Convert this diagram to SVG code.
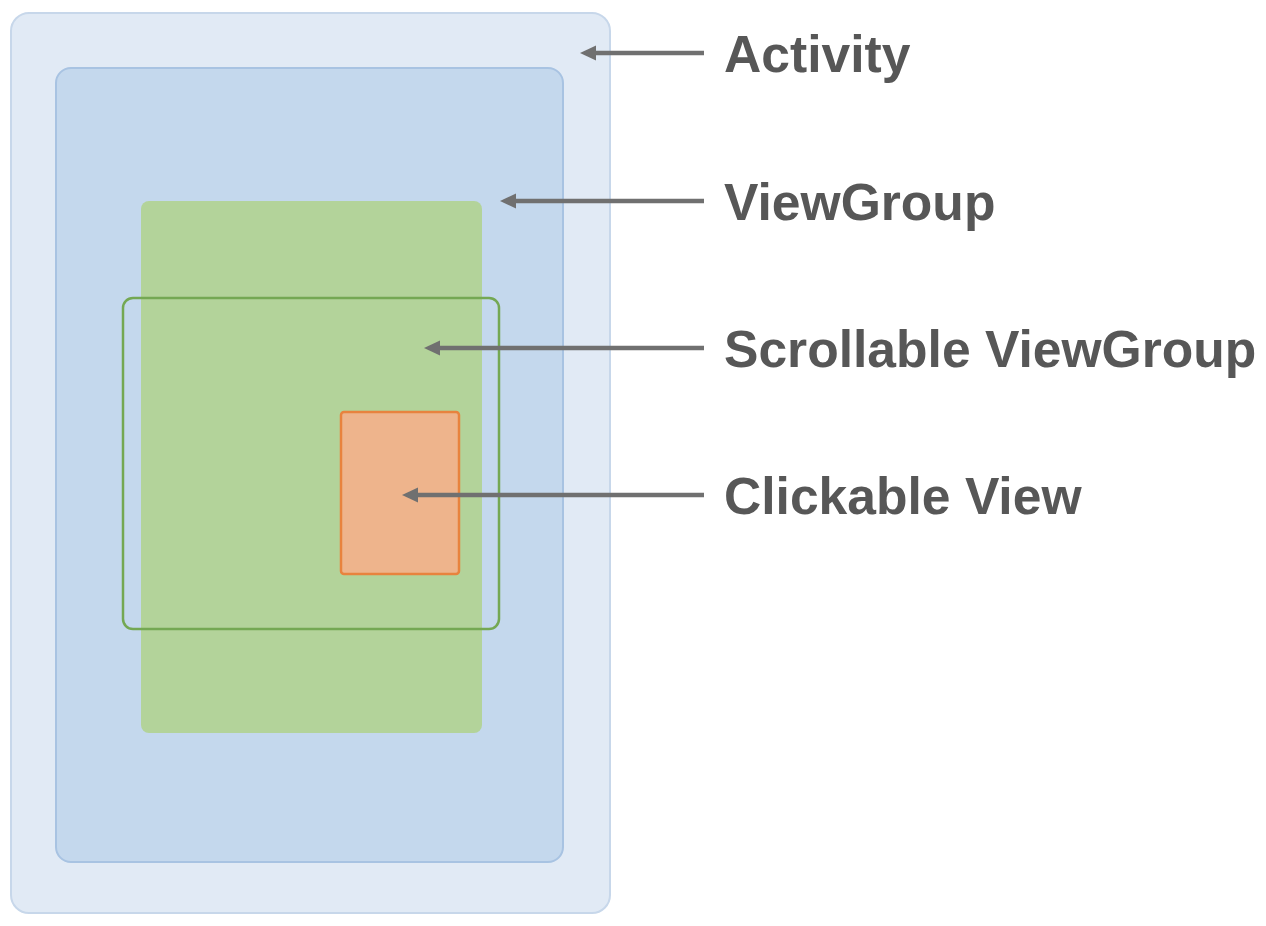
<svg xmlns="http://www.w3.org/2000/svg" width="1266" height="926" viewBox="0 0 1266 926">
  <style>
    .lbl { font-family: "Liberation Sans", Arial, sans-serif; font-weight: bold; font-size: 51.6px; fill: #575757; }
    .conn { stroke: #707070; stroke-width: 4.5; fill: none; }
  </style>
  <defs>
    <marker id="arrow" markerUnits="userSpaceOnUse" markerWidth="18" markerHeight="18" refX="4" refY="8" orient="auto">
      <path d="M16,8 L0,0.5 L0,15.5 Z" fill="#707070"/>
    </marker>
  </defs>
  <rect width="1266" height="926" fill="#ffffff"/>
  <g id="activity">
    <rect x="11" y="13" width="599" height="900" rx="18" fill="#e1eaf5" stroke="#c7d7ea" stroke-width="2"/>
  </g>
  <g id="viewgroup">
    <rect x="56" y="68" width="507" height="794" rx="15" fill="#c4d8ed" stroke="#a8c3e2" stroke-width="2"/>
  </g>
  <g id="content">
    <rect x="141" y="201" width="341" height="532" rx="8" fill="#b3d39a"/>
  </g>
  <g id="scrollable-viewgroup">
    <rect x="123" y="298" width="376" height="331" rx="10" fill="none" stroke="#74a853" stroke-width="2.5"/>
  </g>
  <g id="clickable-view">
    <rect x="341" y="412" width="118" height="162" rx="3" fill="#eeb48c" stroke="#e8833e" stroke-width="2.5"/>
  </g>
  <g id="connectors">
    <line class="conn" x1="704" y1="53" x2="592" y2="53" marker-end="url(#arrow)"/>
    <line class="conn" x1="704" y1="201" x2="512" y2="201" marker-end="url(#arrow)"/>
    <line class="conn" x1="704" y1="348" x2="436" y2="348" marker-end="url(#arrow)"/>
    <line class="conn" x1="704" y1="495" x2="414" y2="495" marker-end="url(#arrow)"/>
  </g>
  <g id="labels">
    <text class="lbl" x="724" y="72">Activity</text>
    <text class="lbl" x="724" y="220">ViewGroup</text>
    <text class="lbl" x="724" y="367">Scrollable ViewGroup</text>
    <text class="lbl" x="724" y="514">Clickable View</text>
  </g>
</svg>
